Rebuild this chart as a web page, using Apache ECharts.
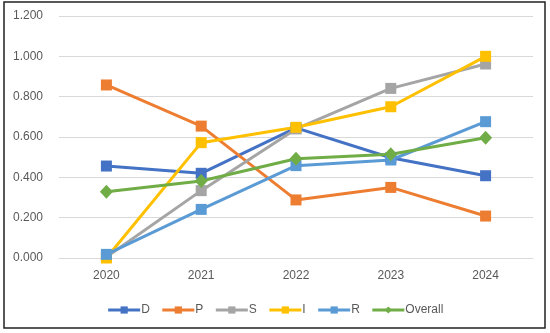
<!DOCTYPE html>
<html><head><meta charset="utf-8">
<script src="https://cdn.jsdelivr.net/npm/echarts@6/dist/echarts.min.js"></script>
<style>html,body{margin:0;padding:0;background:#fff}#c{width:550px;height:333px}</style>
</head><body><div id="c"></div>
<script>
var categories = ['2020','2021','2022','2023','2024'];
var D = [0.456, 0.420, 0.645, 0.497, 0.408];
var P = [0.858, 0.654, 0.288, 0.350, 0.208];
var S = [0.005, 0.334, 0.640, 0.841, 0.962];
var I = [0.000, 0.572, 0.648, 0.750, 1.000];
var R = [0.018, 0.241, 0.458, 0.486, 0.676];
var Overall = [0.329, 0.382, 0.492, 0.514, 0.596];
var seriesNames = ['D','P','S','I','R','Overall'];
var seriesData = [D, P, S, I, R, Overall];
var colors = ['#4472C4','#ED7D31','#A5A5A5','#FFC000','#5B9BD5','#70AD47'];
var yTicks = {min:0, max:1.2, interval:0.2};

var chart = echarts.init(document.getElementById('c'), null, {renderer:'canvas'});
var font = '"Liberation Sans", Arial, sans-serif';
chart.setOption({
  animation:false,
  color: colors,
  graphic:[{type:'rect', shape:{x:4, y:2, width:541, height:326}, style:{fill:'none', stroke:'#222', lineWidth:1.5}, silent:true}],
  grid:{left:59, right:17, top:16, bottom:75, containLabel:false},
  legend:{
    data: seriesNames,
    top: 299, left:'center',
    itemWidth:32, itemHeight:9, itemGap:11,
    lineStyle:{width:3},
    textStyle:{color:'#595959', fontSize:12, fontFamily:font, padding:[0,0,0,-4]}
  },
  xAxis:{type:'category', data:categories, boundaryGap:true,
    axisLine:{show:true, lineStyle:{color:'#D9D9D9', width:1}},
    axisTick:{show:false},
    axisLabel:{color:'#595959', fontSize:12, fontFamily:font, margin:12}
  },
  yAxis:{type:'value', min:yTicks.min, max:yTicks.max, interval:yTicks.interval,
    axisLine:{show:false}, axisTick:{show:false},
    splitLine:{lineStyle:{color:'#D9D9D9', width:1}},
    axisLabel:{color:'#595959', fontSize:12, fontFamily:font, margin:16,
      formatter:function(v){return v.toFixed(3);}}
  },
  series: seriesNames.map(function(n,i){
    return {name:n, type:'line', data:seriesData[i],
      symbol: i===5 ? 'diamond' : 'rect',
      symbolSize: i===5 ? [13,14] : 11,
      showAllSymbol:true,
      lineStyle:{width:3, color:colors[i]},
      itemStyle:{color:colors[i]}
    };
  })
});
</script></body></html>
